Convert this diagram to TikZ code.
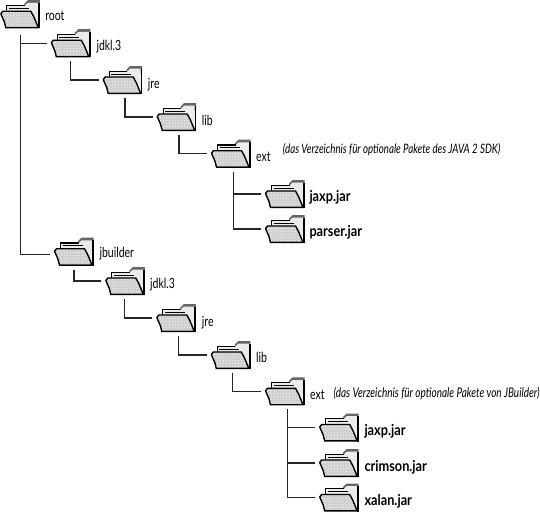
\documentclass[tikz,border=0pt]{standalone}
\usepackage{fontspec}
\setmainfont{Lato}[FakeStretch=0.75]
\newfontfamily\jarfont{Lato}[FakeStretch=0.85]
\usepackage{tikz}
\usetikzlibrary{patterns}

\tikzset{
  folder/.pic={
    \node[minimum width=41pt,minimum height=29pt,inner sep=0pt,outer sep=0pt] (box) at (0,0) {};
    \begin{scope}[shift={(-20.5,-14.5)},line join=miter]
      \fill[black!60] (24.5,4) -- (28,.5) -- (40,.5) -- (40,8) -- (24.5,8) -- cycle;
      \fill[black!8] (7,6) -- (25,6) -- (28,3.2) -- (38.5,3.2) -- (38.5,24) -- (32,24) -- (30,11) -- (7,11) -- cycle;
      \draw[line width=1.2pt] (7,11) -- (7,5.8) -- (25,5.8);
      \draw[line width=.8pt] (9,8.5) -- (29,8.5);
      \draw[line width=1.6pt] (39.4,3) -- (39.4,28.5);
      \fill[black!20] (1,13) -- (3,11) -- (31,11) -- (38,27) -- (6,27) -- cycle;
      \fill[pattern=crosshatch dots,pattern color=white] (1,13) -- (3,11) -- (31,11) -- (38,27) -- (6,27) -- cycle;
      \draw[line width=1.4pt] (1,14) -- (3,11.5) -- (31,11.5) -- (34,17) -- (38.5,27.9) -- (6,27.9) -- (4.5,22) -- (1,14);
    \end{scope}
  },
  tree/.style={line width=1.3pt,black!85,shorten <=3.5pt,shorten >=3.5pt},
  dirname/.style={inner sep=0pt,anchor=base west,font=\fontsize{14}{16}\selectfont},
  jar/.style={inner sep=0pt,anchor=base west,font=\fontsize{15}{17}\jarfont\bfseries},
  remark/.style={inner sep=0pt,anchor=base west,font=\fontsize{13}{15}\selectfont\itshape}
}

\begin{document}
\begin{tikzpicture}[x=1pt,y=-1pt]
  \useasboundingbox (0,0) rectangle (540,512);
  % first tree
  \pic (root) at (20.3,14.2) {folder};
  \pic (jdk) at (70.8,43.2) {folder};
  \pic (jre) at (122.7,80) {folder};
  \pic (lib) at (176.7,117) {folder};
  \pic (ext) at (231,153.7) {folder};
  \pic (jaxp) at (285,194) {folder};
  \pic (parser) at (285,229) {folder};
  % second tree
  \pic (jbuilder) at (74,251.7) {folder};
  \pic (jdkb) at (125.3,281) {folder};
  \pic (jreb) at (176.3,318) {folder};
  \pic (libb) at (230.8,355) {folder};
  \pic (extb) at (285,391.3) {folder};
  \pic (jaxpb) at (339.2,427.5) {folder};
  \pic (crimson) at (339.2,463) {folder};
  \pic (xalan) at (339.2,497.5) {folder};
  % labels
  \node[dirname] (rootname) at ([shift={(4.3,5.8)}]rootbox.east) {root};
  \node[dirname] (jdkname) at ([shift={(5,6.8)}]jdkbox.east) {jdkl.3};
  \node[dirname] (jrename) at ([shift={(4.5,8.3)}]jrebox.east) {jre};
  \node[dirname] (libname) at ([shift={(4.5,8)}]libbox.east) {lib};
  \node[dirname] (extname) at ([shift={(4.5,8)}]extbox.east) {ext};
  \node[dirname] (jbuildername) at ([shift={(4.8,5.6)}]jbuilderbox.east) {jbuilder};
  \node[dirname] (jdkbname) at ([shift={(4.2,7.3)}]jdkbbox.east) {jdkl.3};
  \node[dirname] (jrebname) at ([shift={(4.9,8)}]jrebbox.east) {jre};
  \node[dirname] (libbname) at ([shift={(4.7,7.7)}]libbbox.east) {lib};
  \node[dirname] (extbname) at ([shift={(4.5,7.7)}]extbbox.east) {ext};
  \node[jar] (jaxpname) at ([shift={(3.8,7.7)}]jaxpbox.east) {jaxp.jar};
  \node[jar] (parsername) at ([shift={(3.8,7.7)}]parserbox.east) {parser.jar};
  \node[jar] (jaxpbname) at ([shift={(4.6,8.2)}]jaxpbbox.east) {jaxp.jar};
  \node[jar] (crimsonname) at ([shift={(4.6,8)}]crimsonbox.east) {crimson.jar};
  \node[jar] (xalanname) at ([shift={(4.6,7.5)}]xalanbox.east) {xalan.jar};
  \node[remark] (extremark) at (282.7,153.3) {(das Verzeichnis für optionale Pakete des JAVA 2 SDK)};
  \node[remark,font=\fontsize{13.3}{15}\selectfont\itshape] (extbremark) at (333.3,397.3) {(das Verzeichnis für optionale Pakete von JBuilder)};
  % connectors
  \draw[tree,shorten <=6pt] (rootbox.south) |- (jdkbox.west);
  \draw[tree,shorten <=6pt] (rootbox.south) |- ([yshift=-2.5pt]jbuilderbox.west);
  \draw[tree] (jdkbox.south) |- (jrebox.west);
  \draw[tree] ([xshift=2.3pt]jrebox.south) |- (libbox.west);
  \draw[tree] ([xshift=2.3pt]libbox.south) |- (extbox.west);
  \draw[tree] ([xshift=2.3pt]extbox.south) |- (jaxpbox.west);
  \draw[tree] ([xshift=2.3pt]extbox.south) |- (parserbox.west);
  \draw[tree] (jbuilderbox.south) |- (jdkbbox.west);
  \draw[tree] ([xshift=-1pt]jdkbbox.south) |- (jrebbox.west);
  \draw[tree] ([xshift=2.4pt]jrebbox.south) |- (libbbox.west);
  \draw[tree] ([xshift=1.9pt]libbbox.south) |- (extbbox.west);
  \draw[tree] ([xshift=2.7pt]extbbox.south) |- (jaxpbbox.west);
  \draw[tree] ([xshift=2.7pt]extbbox.south) |- (crimsonbox.west);
  \draw[tree] ([xshift=2.7pt]extbbox.south) |- (xalanbox.west);
\end{tikzpicture}
\end{document}
